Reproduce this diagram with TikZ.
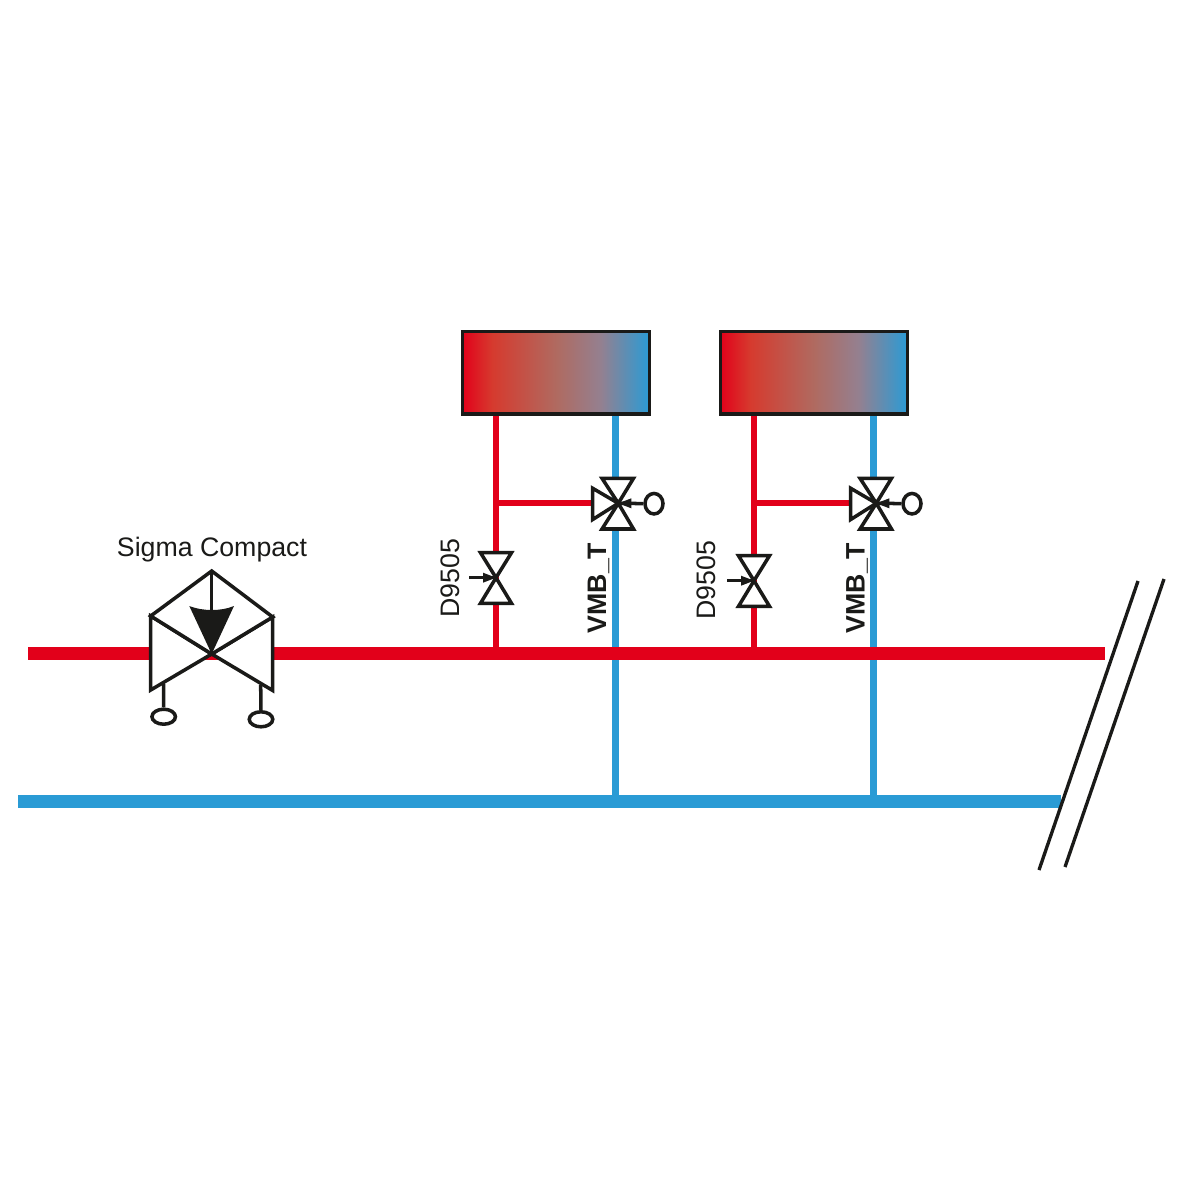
\documentclass[tikz,border=0pt]{standalone}
\usepackage{fontspec}
\usetikzlibrary{shapes.geometric}
\setmainfont{Liberation Sans}
\definecolor{pipered}{HTML}{E2001A}
\definecolor{pipeblue}{HTML}{2A9BD5}
\definecolor{ink}{HTML}{1A1A18}
\definecolor{fadeA}{RGB}{214,58,46}
\definecolor{fadeB}{RGB}{176,106,96}
\definecolor{fadeC}{RGB}{148,128,144}
\pgfdeclarehorizontalshading{radiatorfade}{100bp}{
  color(0bp)=(pipered);
  color(25bp)=(pipered);
  color(33bp)=(fadeA);
  color(50bp)=(fadeB);
  color(62bp)=(fadeC);
  color(75bp)=(pipeblue);
  color(100bp)=(pipeblue)}
\tikzset{
  mainred/.style={draw=pipered,line width=3.7pt},
  mainblue/.style={draw=pipeblue,line width=3.7pt},
  branchred/.style={draw=pipered,line width=1.9pt},
  branchblue/.style={draw=pipeblue,line width=1.9pt},
  sym/.style={draw=ink,line width=1pt,fill=white,line join=miter},
  symline/.style={draw=ink,line width=1pt},
  breakline/.style={draw=ink,line width=0.95pt},
  lab/.style={inner sep=0pt,font=\fontsize{7.6pt}{9pt}\selectfont,text=ink},
  labb/.style={inner sep=0pt,font=\fontsize{7.6pt}{9pt}\selectfont\bfseries,text=ink}
}
\begin{document}
\begin{tikzpicture}[x=0.01cm,y=-0.01cm]
\useasboundingbox (0,0) rectangle (1200,1200);
% main pipe ends
\coordinate (rs) at (28,653.5); \coordinate (re) at (1105,653.5);
\coordinate (bs) at (18,801.5); \coordinate (be) at (1061,801.5);
% branches
\foreach \n/\dx/\dy in {a/0/0,b/258/3}{
  \begin{scope}[shift={(\dx,0)}]
    \coordinate (\n rt) at (496,414); \coordinate (\n rb) at (496,653.5);
    \coordinate (\n rj) at (496,503); \coordinate (\n rv) at (595,503);
    \coordinate (\n bt) at (615.8,414); \coordinate (\n bb) at (615.8,801.5);
    \draw[branchblue] (\n bt) -- (\n bb);
    \draw[branchred] (\n rt) -- (\n rb);
    \draw[branchred] (\n rj) -- (\n rv);
    % radiator
    \shade[shading=radiatorfade] (462,331.7) rectangle (649.5,414);
    \draw[ink,line width=0.95pt] (462.3,331.7) rectangle (649.3,414);
    \coordinate (\n dc) at (496,577.7+\dy);
    \coordinate (\n tc) at (618.3,503.3);
    % two-way valve
    \draw[sym] (480.5,552.7+\dy) -- (511.5,552.7+\dy) -- (\n dc) -- cycle;
    \draw[sym] (480.5,603.3+\dy) -- (511.5,603.3+\dy) -- (\n dc) -- cycle;
    \coordinate (\n ds) at (469,577.7+\dy);
    \draw[symline] (\n ds) -- (\n dc);
    \fill[ink] (\n dc) -- ++(-13,-5) -- ++(0,10) -- cycle;
    % three-way valve
    \draw[sym] (602,478.3) -- (633.5,478.3) -- (\n tc) -- cycle;
    \draw[sym] (602,529) -- (633.5,529) -- (\n tc) -- cycle;
    \draw[sym] (592.7,488.3) -- (592.7,519.5) -- (\n tc) -- cycle;
    \node[draw=ink,line width=1pt,fill=white,ellipse,minimum width=0.18cm,minimum height=0.205cm,inner sep=0pt] (\n act) at (654,503.7) {};
    \draw[symline] (\n act) -- (\n tc);
    \fill[ink] (\n tc) -- ++(13,-5) -- ++(0,10) -- cycle;
  \end{scope}
}
\draw[mainblue] (bs) -- (be);
\draw[mainred] (rs) -- (re);
% labels
\node[lab,rotate=90] (d1) at (450,578) {D9505};
\node[lab,rotate=90] (d2) at (706,580) {D9505};
\node[labb,rotate=90] (v1) at (598.5,588) {VMB\_T};
\node[labb,rotate=90] (v2) at (857,588) {VMB\_T};
\node[lab] (sig) at (212,550) {Sigma Compact};
% Sigma Compact valve
\coordinate (sc) at (211.7,654);
\coordinate (st) at (211.7,571);
\coordinate (sl) at (150.7,616); \coordinate (sr) at (272.7,617);
\coordinate (slb) at (150.7,690); \coordinate (srb) at (272.7,690.5);
\draw[sym] (sl) -- (slb) -- (sc) -- cycle;
\draw[sym] (sr) -- (srb) -- (sc) -- cycle;
\draw[sym] (st) -- (sl) -- (sc) -- (sr) -- cycle;
\draw[symline] (st) -- (sc);
\fill[ink] (189.3,606) .. controls (197,609) and (205,610) .. (211.7,610) .. controls (219,610) and (227,609) .. (234,606) -- (sc) -- cycle;
\node[draw=ink,line width=1pt,fill=white,ellipse,minimum width=0.235cm,minimum height=0.15cm,inner sep=0pt] (e1) at (163.7,716.7) {};
\node[draw=ink,line width=1pt,fill=white,ellipse,minimum width=0.235cm,minimum height=0.15cm,inner sep=0pt] (e2) at (261,719.3) {};
\coordinate (s1) at (163.5,684); \coordinate (s2) at (260.7,685);
\draw[symline] (s1) -- (e1);
\draw[symline] (s2) -- (e2);
% break lines
\coordinate (k1) at (1138,581); \coordinate (k2) at (1039,870);
\coordinate (k3) at (1164,579); \coordinate (k4) at (1065,867);
\draw[breakline] (k1) -- (k2);
\draw[breakline] (k3) -- (k4);
\end{tikzpicture}
\end{document}
